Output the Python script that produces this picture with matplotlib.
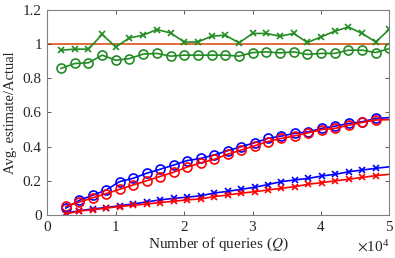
import matplotlib
matplotlib.use("Agg")
import matplotlib.pyplot as plt
from matplotlib.ticker import FuncFormatter, ScalarFormatter

plt.rcParams["font.family"] = ["Liberation Serif", "DejaVu Serif"]
plt.rcParams["mathtext.fontset"] = "stix"

# red / blue series share these query counts
x_rb = [2700, 4650, 6600, 8600, 10550, 12500, 14500, 16450, 18450, 20400, 22400, 24350,
        26350, 28300, 30300, 32250, 34200, 36200, 38150, 40100, 42100, 44050, 46050, 48000]
blue_circ = [0.040, 0.085, 0.115, 0.146, 0.195, 0.214, 0.244, 0.267, 0.292, 0.318, 0.331, 0.351,
             0.376, 0.399, 0.423, 0.448, 0.462, 0.478, 0.487, 0.507, 0.520, 0.536, 0.546, 0.565]
red_circ = [0.050, 0.075, 0.100, 0.125, 0.150, 0.175, 0.200, 0.225, 0.250, 0.280, 0.305, 0.325,
            0.355, 0.380, 0.405, 0.430, 0.448, 0.464, 0.481, 0.500, 0.507, 0.526, 0.542, 0.556]
blue_cross = [0.010, 0.025, 0.035, 0.043, 0.054, 0.064, 0.076, 0.088, 0.097, 0.104, 0.112, 0.128,
              0.138, 0.150, 0.162, 0.178, 0.195, 0.205, 0.214, 0.228, 0.238, 0.253, 0.263, 0.273]
red_cross = [0.006, 0.023, 0.030, 0.040, 0.049, 0.056, 0.064, 0.072, 0.080, 0.088, 0.094, 0.107,
             0.117, 0.127, 0.136, 0.146, 0.156, 0.166, 0.180, 0.189, 0.200, 0.209, 0.220, 0.230]
# line ends at the right edge
x_end = 50000
blue_circ_end, red_circ_end = 0.570, 0.558
blue_cross_end, red_cross_end = 0.282, 0.238

# green series
x_g = [2000, 4000, 6000, 8000, 10000, 12000, 14000, 16000, 18000, 20000, 22000, 24000, 26000,
       28000, 30000, 32000, 34000, 36000, 38000, 40000, 42000, 44000, 46000, 48000, 50000]
green_cross = [0.965, 0.971, 0.971, 1.057, 0.984, 1.037, 1.053, 1.086, 1.066, 1.013, 1.013, 1.047,
               1.053, 1.008, 1.063, 1.063, 1.047, 1.063, 1.010, 1.043, 1.076, 1.101, 1.063, 1.013, 1.088]
green_circ = [0.858, 0.887, 0.891, 0.936, 0.906, 0.916, 0.942, 0.946, 0.930, 0.936, 0.936, 0.936,
              0.936, 0.930, 0.951, 0.955, 0.949, 0.955, 0.940, 0.946, 0.946, 0.965, 0.965, 0.951, 0.975]
ref_level = 1.0

fig = plt.figure(figsize=(3.95, 2.58), dpi=100)
ax = fig.add_axes([0.12, 0.167, 0.866, 0.794])

orange = "#D95319"
green = "#228B22"
ax.axhline(ref_level, color=orange, lw=1.2, zorder=1)

circ = dict(marker="o", ms=6.5, mfc="none", mew=1.2, lw=1.2)
cross = dict(marker="x", ms=4.5, mew=1.2, lw=1.2)
for ys, yend, c, st in [(blue_circ, blue_circ_end, "blue", circ),
                        (red_circ, red_circ_end, "red", circ),
                        (blue_cross, blue_cross_end, "blue", cross),
                        (red_cross, red_cross_end, "red", cross)]:
    ax.plot(x_rb, ys, color=c, **st)
    ax.plot([x_rb[-1], x_end], [ys[-1], yend], color=c, lw=1.2)

ax.plot(x_g, green_cross, color=green, **cross)
ax.plot(x_g, green_circ, color=green, **circ)

ax.set_xlim(0, 50000)
ax.set_ylim(0, 1.2)
ax.set_xticks([0, 10000, 20000, 30000, 40000, 50000])
ax.set_yticks([0, 0.2, 0.4, 0.6, 0.8, 1.0, 1.2])
sf = ScalarFormatter(useMathText=True)
sf.set_powerlimits((0, 0))
ax.xaxis.set_major_formatter(sf)
ax.yaxis.set_major_formatter(FuncFormatter(lambda v, p: f"{v:g}"))

gray = "#262626"
for s in ax.spines.values():
    s.set_color("#808080")
    s.set_linewidth(0.8)
ax.tick_params(direction="in", top=True, right=True, length=3, width=0.6,
               color="#404040", labelsize=11, labelcolor=gray, pad=4)
ax.xaxis.get_offset_text().set_fontsize(11)
ax.xaxis.get_offset_text().set_color(gray)

ax.set_xlabel("Number of queries ($Q$)", fontsize=11, color=gray, labelpad=1)
ax.set_ylabel("Avg. estimate/Actual", fontsize=10.5, color=gray, labelpad=4)

fig.savefig("out.png", dpi=100)
